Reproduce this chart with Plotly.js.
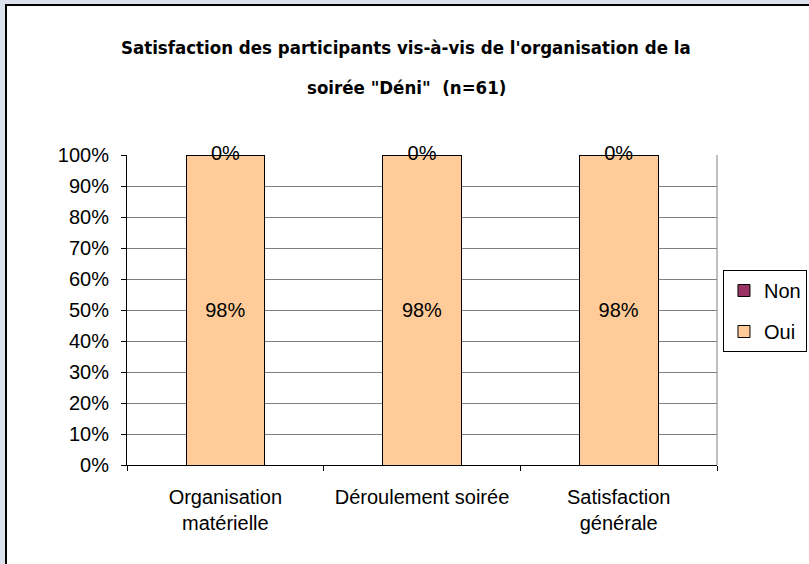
<!DOCTYPE html>
<html>
<head>
<meta charset="utf-8">
<script src="https://cdn.plot.ly/plotly-3.0.1.min.js"></script>
<style>
  html, body { margin: 0; padding: 0; overflow: hidden; background: #dde3ec; }
  #frame { position: fixed; left: 5px; top: 4px; right: -20px; bottom: -20px; background: #ffffff; border-left: 2px solid #000; border-top: 2px solid #000; overflow: hidden; }
  #chart { position: absolute; left: 0px; top: 0px; width: 880px; height: 558px; }
</style>
</head>
<body>
<div id="frame"><div id="chart"></div></div>
<script>
const categories = ['Organisation<br>matérielle', 'Déroulement soirée', 'Satisfaction<br>générale'];
const oui = [98, 98, 98];
const non = [0, 0, 0];
const titleLine1 = 'Satisfaction des participants vis-à-vis de l\'organisation de la';
const titleLine2 = 'soirée "Déni"  (n=61)';

const pct = v => v + '%';
// vertical centre of the "Non" segment on the normalized (percent) scale
const nonMid = non.map((v, i) => 100 * (oui[i] + v / 2) / (oui[i] + v));

const textFont = { family: 'Liberation Sans, Arial, sans-serif', size: 20, color: '#000' };
const titleFont = { family: 'DejaVu Sans Condensed, DejaVu Sans, sans-serif', stretch: 'condensed', size: 18.5, color: '#000', weight: 'bold' };

const traces = [
  {
    type: 'bar', name: 'Oui', x: categories, y: oui,
    text: oui.map(pct), textposition: 'inside', insidetextanchor: 'middle',
    textfont: textFont, hoverinfo: 'x+y+name',
    marker: { color: '#FFCC99', line: { color: '#000', width: 1 } },
    legendgroup: 'g1', legendrank: 2
  },
  {
    type: 'bar', name: 'Non', x: categories, y: non,
    textposition: 'none',
    marker: { color: '#993366', line: { color: '#000', width: 1 } },
    legendgroup: 'g2', legendrank: 1
  },
  {
    type: 'scatter', mode: 'text', x: categories, y: nonMid,
    text: non.map(pct), textposition: 'middle center', textfont: textFont,
    showlegend: false, cliponaxis: false, hoverinfo: 'skip'
  }
];

const layout = {
  width: 880, height: 558,
  margin: { l: 120, r: 170, t: 149, b: 99, pad: 0 },
  paper_bgcolor: 'rgba(0,0,0,0)', plot_bgcolor: '#ffffff',
  barmode: 'stack', barnorm: 'percent', bargap: 0.6,
  font: { family: 'Liberation Sans, Arial, sans-serif', size: 20, color: '#000' },
  showlegend: true,
  legend: {
    x: 1.1525, xanchor: 'right', y: 0.629, yanchor: 'top',
    bordercolor: '#000', borderwidth: 1, bgcolor: '#fff',
    traceorder: 'grouped', tracegroupgap: 12,
    font: { family: 'Liberation Sans, Arial, sans-serif', size: 20, color: '#000' }
  },
  xaxis: {
    type: 'category', showline: true, linecolor: '#000', linewidth: 1,
    ticks: 'outside', tickson: 'boundaries', ticklen: 5, tickcolor: '#000',
    tickfont: { size: 20 }, ticklabelstandoff: 14, showgrid: false, fixedrange: true
  },
  yaxis: {
    range: [0, 100], dtick: 10, ticksuffix: '%',
    showline: true, linecolor: '#000', linewidth: 1,
    ticks: 'outside', ticklen: 5, tickcolor: '#000',
    tickfont: { size: 20 }, ticklabelstandoff: 8,
    showgrid: true, gridcolor: '#808080', gridwidth: 1, zeroline: false, fixedrange: true
  },
  shapes: [
    { type: 'line', xref: 'paper', yref: 'paper', x0: 1, x1: 1, y0: 0, y1: 1, line: { color: '#808080', width: 1 } }
  ],
  annotations: [
    { xref: 'paper', yref: 'paper', x: 0.473, y: 1.348, xanchor: 'center', yanchor: 'middle', showarrow: false,
      text: titleLine1, font: titleFont },
    { xref: 'paper', yref: 'paper', x: 0.473, y: 1.219, xanchor: 'center', yanchor: 'middle', showarrow: false,
      text: titleLine2, font: titleFont }
  ]
};

Plotly.newPlot('chart', traces, layout, { displayModeBar: false, staticPlot: true });
</script>
</body>
</html>
